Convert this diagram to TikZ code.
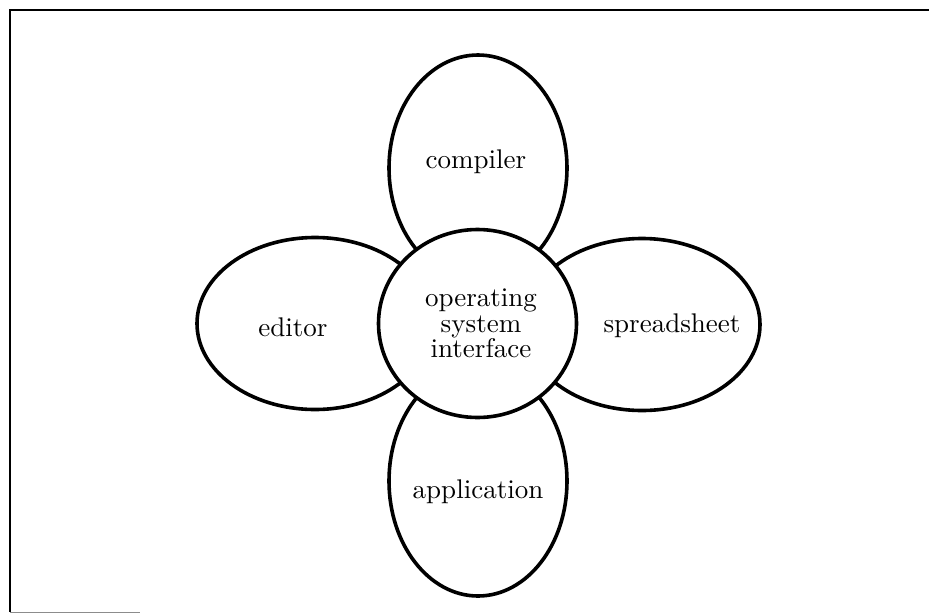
\documentclass[tikz,border=0pt]{standalone}
\usepackage{fontspec}
\setmainfont{lmroman10-regular}[Extension=.otf]
\usetikzlibrary{shapes.geometric}
\begin{document}
\begin{tikzpicture}[x=1pt,y=-1pt,
  petal/.style={ellipse,draw=black,fill=white,line width=3.6pt,inner sep=0pt,outer sep=0pt},
  lbl/.style={font=\fontsize{27}{25.5}\selectfont,inner sep=0pt,anchor=base},
  frame/.style={line width=2.2pt,black}]
\useasboundingbox (0,0) rectangle (929,614);
% frame
\coordinate (tl) at (10,10);
\coordinate (tr) at (929,10);
\coordinate (bl) at (10,612);
\coordinate (bm) at (140,612);
\draw[frame] (tr) -- (tl) -- (bl);
\draw[line width=1pt,black!45] (bl) -- (bm);
% petals
\node[petal,minimum width=178pt,minimum height=226pt] (compiler) at (478,168) {};
\node[petal,minimum width=178pt,minimum height=230pt] (application) at (478,481) {};
\node[petal,minimum width=236pt,minimum height=172pt] (editor) at (315,323.5) {};
\node[petal,minimum width=236pt,minimum height=172pt] (spreadsheet) at (642,324.5) {};
% centre
\node[petal,minimum width=198pt,minimum height=188pt] (os) at (477.5,323.5) {};
% labels
\node[lbl] (tcompiler) at (476,168) {compiler};
\node[lbl] (teditor) at (293,336) {editor};
\node[lbl] (tspread) at (672,332.5) {spreadsheet};
\node[lbl] (tapp) at (478,498) {application};
\node[font=\fontsize{27}{25.5}\selectfont,inner sep=0pt,align=center,anchor=center] (tos) at (481,323.7) {operating\\system\\interface};
\end{tikzpicture}
\end{document}
